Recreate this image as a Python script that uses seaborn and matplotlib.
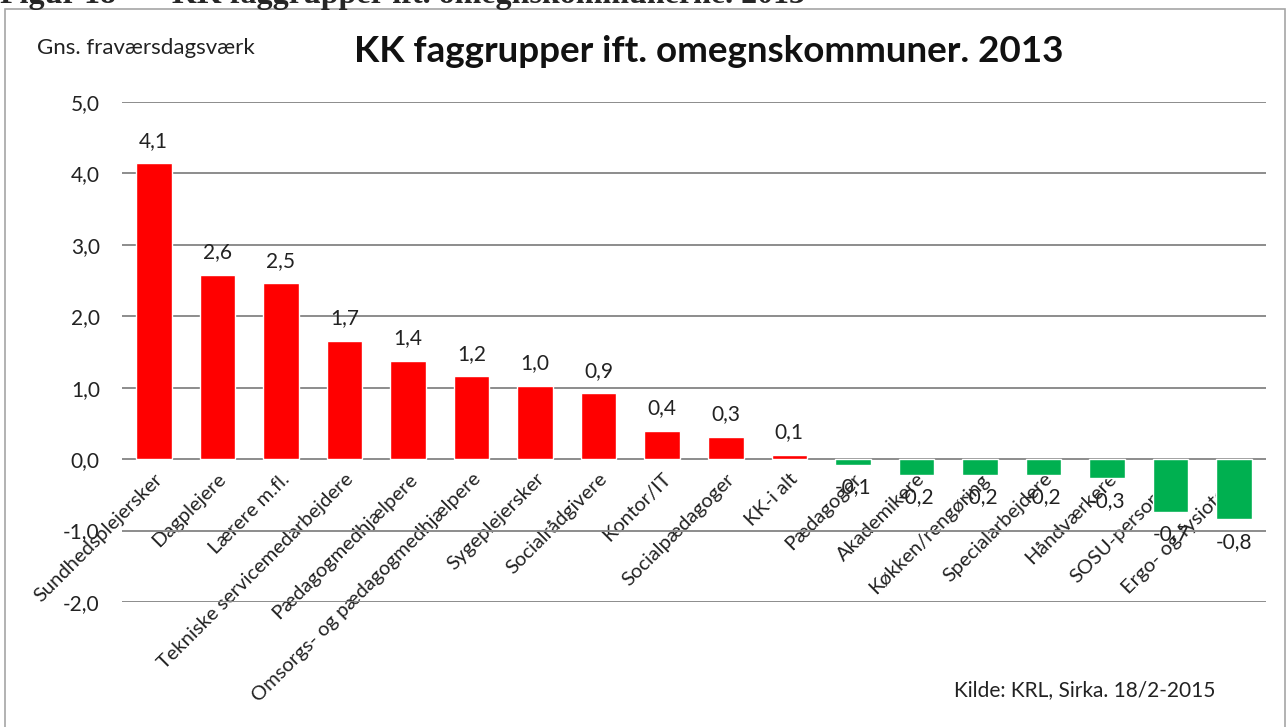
import numpy as np
import pandas as pd
import matplotlib
matplotlib.use("Agg")
import matplotlib.pyplot as plt
import seaborn as sns
from matplotlib.patches import Rectangle

# data
faggrupper = ['Sundhedsplejersker', 'Dagplejere', 'Lærere m.fl.',
              'Tekniske servicemedarbejdere', 'Pædagogmedhjælpere',
              'Omsorgs- og pædagogmedhjælpere', 'Sygeplejersker',
              'Socialrådgivere', 'Kontor/IT', 'Socialpædagoger', 'KK-i alt',
              'Pædagoger', 'Akademikere', 'Køkken/rengøring',
              'Specialarbejdere', 'Håndværkere', 'SOSU-personale',
              'Ergo- og fysiotera.']
fravaer = [4.14, 2.58, 2.46, 1.66, 1.38, 1.16, 1.03, 0.92, 0.40, 0.31, 0.06,
           -0.08, -0.22, -0.22, -0.22, -0.27, -0.74, -0.84]
y_ticks = [-2, -1, 0, 1, 2, 3, 4, 5]
y_ticklabels = ['-2,0', '-1,0', '0,0', '1,0', '2,0', '3,0', '4,0', '5,0']

sns.set_theme(style="white")
plt.rcParams['font.family'] = ['Lato', 'DejaVu Sans']

df = pd.DataFrame({'gruppe': faggrupper, 'vaerdi': fravaer})
# rød for mere fravær end omegnskommunerne, grøn for mindre
farver = ['#FF0000' if v > 0 else '#00B050' for v in df['vaerdi']]

fig = plt.figure(figsize=(12.88, 7.27), dpi=100)
ax = fig.add_axes([122 / 1288, 1 - 602 / 727, 1144 / 1288, 500 / 727])

sns.barplot(data=df, x='gruppe', y='vaerdi', hue='gruppe', palette=farver,
            legend=False, width=0.56, saturation=1, ax=ax)

ax.set_ylim(-2, 5)
ax.set_xlim(-0.5, len(faggrupper) - 0.5)
ax.set_yticks(y_ticks)
ax.set_yticklabels(y_ticklabels, fontsize=15, color='#222222')
ax.yaxis.grid(True, color='#8c8c8c', linewidth=1.4)
ax.set_axisbelow(True)
ax.set_xlabel('')
ax.set_ylabel('')

# kategorinavne hænger under 0-linjen
ax.spines['bottom'].set_position(('data', 0))
for s in ax.spines.values():
    s.set_visible(False)
ax.tick_params(axis='x', length=0, pad=8)
ax.tick_params(axis='y', length=0, pad=16)
for lbl in ax.get_xticklabels():
    lbl.set_rotation(45)
    lbl.set_rotation_mode('anchor')
    lbl.set_horizontalalignment('right')
    lbl.set_verticalalignment('top')
    lbl.set_fontsize(14.5)
    lbl.set_color('#222222')

# dataetiketter med komma som decimaltegn
for cont in ax.containers:
    labels = [f'{b.get_height():.1f}'.replace('.', ',') for b in cont]
    ax.bar_label(cont, labels=labels, padding=9, fontsize=15, color='#222222')

# overskrifter og kilde
fig.text(709 / 1288, 1 - 51 / 727, 'KK faggrupper ift. omegnskommuner. 2013',
         ha='center', va='center', fontsize=26.5, fontweight='bold',
         color='#111111')
fig.text(37 / 1288, 1 - 48 / 727, 'Gns. fraværsdagsværk', ha='left',
         va='center', fontsize=16, color='#222222')
fig.text(1215 / 1288, 1 - 690 / 727, 'Kilde: KRL, Sirka. 18/2-2015',
         ha='right', va='center', fontsize=15, color='#222222')

# afskåret figurtekst øverst
fig.text(0 / 1288, 1 - 2.5 / 727, 'Figur 18', ha='left', va='baseline',
         fontsize=23, fontweight='bold', family='Liberation Serif')
fig.text(172 / 1288, 1 - 2.5 / 727,
         'KK faggrupper ift. omegnskommunerne. 2013', ha='left',
         va='baseline', fontsize=23, fontweight='bold',
         family='Liberation Serif')

# diagramramme
fig.patches.append(Rectangle((5 / 1288, -0.05), 1280 / 1288,
                             1 - 9 / 727 + 0.05, transform=fig.transFigure,
                             fill=False, edgecolor='#a6a6a6', linewidth=1.2))

fig.savefig('out.png', dpi=100)
